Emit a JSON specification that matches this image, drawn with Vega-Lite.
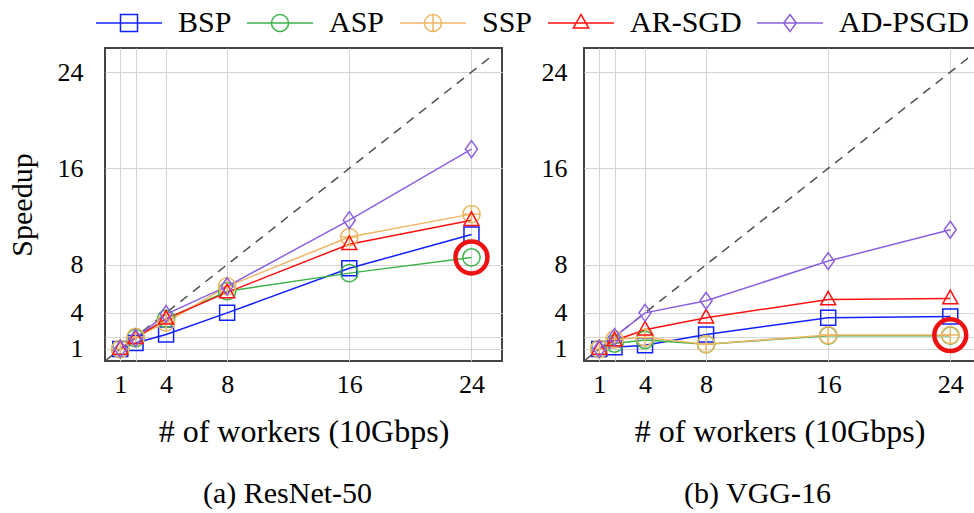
{
  "$schema": "https://vega.github.io/schema/vega-lite/v6.json",
  "padding": {"left": 6, "top": 8, "right": 0, "bottom": 0},
  "config": {
    "font": "Liberation Serif",
    "view": {"stroke": "#444444", "strokeWidth": 2},
    "axis": {
      "grid": true, "gridColor": "#d4d4d4", "gridWidth": 1, "ticks": false, "domain": false,
      "labelFontSize": 26, "labelColor": "#000000", "titleColor": "#000000",
      "titleFontWeight": "normal", "labelFont": "Liberation Serif", "titleFont": "Liberation Serif"
    },
    "point": {"filled": false, "size": 225, "strokeWidth": 1.5, "opacity": 1},
    "title": {"font": "Liberation Serif", "fontWeight": "normal", "fontSize": 30, "color": "#000000"}
  },
  "datasets": {
    "speed": [
      {"model": "ResNet-50", "series": "BSP", "w": 1, "s": 1},
      {"model": "ResNet-50", "series": "BSP", "w": 2, "s": 1.5},
      {"model": "ResNet-50", "series": "BSP", "w": 4, "s": 2.2},
      {"model": "ResNet-50", "series": "BSP", "w": 8, "s": 4.0},
      {"model": "ResNet-50", "series": "BSP", "w": 16, "s": 7.7},
      {"model": "ResNet-50", "series": "BSP", "w": 24, "s": 10.5},
      {"model": "ResNet-50", "series": "ASP", "w": 1, "s": 1},
      {"model": "ResNet-50", "series": "ASP", "w": 2, "s": 1.9},
      {"model": "ResNet-50", "series": "ASP", "w": 4, "s": 3.5},
      {"model": "ResNet-50", "series": "ASP", "w": 8, "s": 5.8},
      {"model": "ResNet-50", "series": "ASP", "w": 16, "s": 7.3},
      {"model": "ResNet-50", "series": "ASP", "w": 24, "s": 8.6},
      {"model": "ResNet-50", "series": "SSP", "w": 1, "s": 1},
      {"model": "ResNet-50", "series": "SSP", "w": 2, "s": 2.0},
      {"model": "ResNet-50", "series": "SSP", "w": 4, "s": 3.2},
      {"model": "ResNet-50", "series": "SSP", "w": 8, "s": 6.2},
      {"model": "ResNet-50", "series": "SSP", "w": 16, "s": 10.3},
      {"model": "ResNet-50", "series": "SSP", "w": 24, "s": 12.2},
      {"model": "ResNet-50", "series": "AR-SGD", "w": 1, "s": 1},
      {"model": "ResNet-50", "series": "AR-SGD", "w": 2, "s": 1.9},
      {"model": "ResNet-50", "series": "AR-SGD", "w": 4, "s": 3.5},
      {"model": "ResNet-50", "series": "AR-SGD", "w": 8, "s": 5.7},
      {"model": "ResNet-50", "series": "AR-SGD", "w": 16, "s": 9.7},
      {"model": "ResNet-50", "series": "AR-SGD", "w": 24, "s": 11.7},
      {"model": "ResNet-50", "series": "AD-PSGD", "w": 1, "s": 1},
      {"model": "ResNet-50", "series": "AD-PSGD", "w": 2, "s": 1.9},
      {"model": "ResNet-50", "series": "AD-PSGD", "w": 4, "s": 3.9},
      {"model": "ResNet-50", "series": "AD-PSGD", "w": 8, "s": 6.2},
      {"model": "ResNet-50", "series": "AD-PSGD", "w": 16, "s": 11.7},
      {"model": "ResNet-50", "series": "AD-PSGD", "w": 24, "s": 17.6},
      {"model": "VGG-16", "series": "BSP", "w": 1, "s": 1},
      {"model": "VGG-16", "series": "BSP", "w": 2, "s": 1.15},
      {"model": "VGG-16", "series": "BSP", "w": 4, "s": 1.3},
      {"model": "VGG-16", "series": "BSP", "w": 8, "s": 2.2},
      {"model": "VGG-16", "series": "BSP", "w": 16, "s": 3.6},
      {"model": "VGG-16", "series": "BSP", "w": 24, "s": 3.7},
      {"model": "VGG-16", "series": "ASP", "w": 1, "s": 1},
      {"model": "VGG-16", "series": "ASP", "w": 2, "s": 1.45},
      {"model": "VGG-16", "series": "ASP", "w": 4, "s": 1.75},
      {"model": "VGG-16", "series": "ASP", "w": 8, "s": 1.4},
      {"model": "VGG-16", "series": "ASP", "w": 16, "s": 2.1},
      {"model": "VGG-16", "series": "ASP", "w": 24, "s": 2.1},
      {"model": "VGG-16", "series": "SSP", "w": 1, "s": 1},
      {"model": "VGG-16", "series": "SSP", "w": 2, "s": 1.8},
      {"model": "VGG-16", "series": "SSP", "w": 4, "s": 1.95},
      {"model": "VGG-16", "series": "SSP", "w": 8, "s": 1.4},
      {"model": "VGG-16", "series": "SSP", "w": 16, "s": 2.15},
      {"model": "VGG-16", "series": "SSP", "w": 24, "s": 2.15},
      {"model": "VGG-16", "series": "AR-SGD", "w": 1, "s": 1},
      {"model": "VGG-16", "series": "AR-SGD", "w": 2, "s": 1.7},
      {"model": "VGG-16", "series": "AR-SGD", "w": 4, "s": 2.6},
      {"model": "VGG-16", "series": "AR-SGD", "w": 8, "s": 3.6},
      {"model": "VGG-16", "series": "AR-SGD", "w": 16, "s": 5.1},
      {"model": "VGG-16", "series": "AR-SGD", "w": 24, "s": 5.2},
      {"model": "VGG-16", "series": "AD-PSGD", "w": 1, "s": 1},
      {"model": "VGG-16", "series": "AD-PSGD", "w": 2, "s": 2.0},
      {"model": "VGG-16", "series": "AD-PSGD", "w": 4, "s": 4.0},
      {"model": "VGG-16", "series": "AD-PSGD", "w": 8, "s": 5.0},
      {"model": "VGG-16", "series": "AD-PSGD", "w": 16, "s": 8.3},
      {"model": "VGG-16", "series": "AD-PSGD", "w": 24, "s": 10.9}
    ],
    "ideal": [{"w": 0, "s": 0}, {"w": 25.5, "s": 25.5}],
    "highlight": [
      {"model": "ResNet-50", "w": 24, "s": 8.6},
      {"model": "VGG-16", "w": 24, "s": 2.15}
    ]
  },
  "hconcat": [
    {
      "width": 397, "height": 313,
      "title": {"text": "(a) ResNet-50", "orient": "bottom", "offset": 32, "dx": -16},
      "encoding": {
        "x": {"field": "w", "type": "quantitative", "scale": {"domain": [0, 26], "nice": false, "zero": false},
              "axis": {"values": [1, 2, 4, 8, 16, 24], "labelExpr": "datum.value == 2 ? '' : datum.label", "labelPadding": 10, "title": "# of workers (10Gbps)", "titleFontSize": 32, "titlePadding": 19}},
        "y": {"field": "s", "type": "quantitative", "scale": {"domain": [0, 26], "nice": false, "zero": false},
              "axis": {"values": [1, 2, 4, 8, 16, 24], "labelExpr": "datum.value == 2 ? '' : datum.label", "labelPadding": 22, "title": "Speedup", "titleFontSize": 30, "titlePadding": 20}}
      },
      "layer": [
        {"data": {"name": "speed"}, "transform": [{"filter": "datum.w < 0"}],
         "mark": {"type": "point"},
         "encoding": {
           "color": {"field": "series", "type": "nominal",
             "scale": {"domain": ["BSP", "ASP", "SSP", "AR-SGD", "AD-PSGD"], "range": ["#1020ff", "#3cb34a", "#efb664", "#ff1010", "#8a5fe0"]},
             "legend": {"orient": "none", "legendX": -10, "legendY": -40, "direction": "horizontal", "columns": 5, "title": null, "clipHeight": 30,
               "symbolSize": 4356, "symbolStrokeWidth": 1.5, "labelFontSize": 30, "labelFont": "Liberation Serif", "labelColor": "#000000",
               "labelOffset": 15, "columnPadding": 14}},
           "shape": {"field": "series", "type": "nominal",
             "scale": {"domain": ["BSP", "ASP", "SSP", "AR-SGD", "AD-PSGD"], "range": ["M-1,0H1M-0.258,-0.258H0.258V0.258H-0.258Z", "M-1,0H1M0.258,0A0.258,0.258,0,1,1,-0.258,0A0.258,0.258,0,1,1,0.258,0Z", "M-1,0H1M0.258,0A0.258,0.258,0,1,1,-0.258,0A0.258,0.258,0,1,1,0.258,0ZM0,-0.258V0.258", "M-1,0H1M0,-0.258L0.232,0.155H-0.232Z", "M-1,0H1M0,-0.258L0.193,0L0,0.258L-0.193,0Z"]},
             "legend": {"orient": "none", "legendX": -10, "legendY": -40, "direction": "horizontal", "columns": 5, "title": null, "clipHeight": 30,
               "symbolSize": 4356, "symbolStrokeWidth": 1.5, "labelFontSize": 30, "labelFont": "Liberation Serif", "labelColor": "#000000",
               "labelOffset": 15, "columnPadding": 14}}
         }},
        {"data": {"name": "ideal"}, "mark": {"type": "line", "color": "#505050", "strokeDash": [9, 7], "strokeWidth": 1.5}},
        {"data": {"name": "speed"}, "transform": [{"filter": "datum.model == 'ResNet-50'"}],
         "mark": {"type": "line", "strokeWidth": 1.5},
         "encoding": {"color": {"field": "series", "type": "nominal",
            "scale": {"domain": ["BSP", "ASP", "SSP", "AR-SGD", "AD-PSGD"], "range": ["#1020ff", "#3cb34a", "#efb664", "#ff1010", "#8a5fe0"]}, "legend": null}}},
        {"data": {"name": "speed"}, "transform": [{"filter": "datum.model == 'ResNet-50' && datum.series == 'BSP'"}],
         "mark": {"type": "point", "shape": "M-1,-1H1V1H-1Z", "color": "#1020ff"}},
        {"data": {"name": "speed"}, "transform": [{"filter": "datum.model == 'ResNet-50' && datum.series == 'ASP'"}],
         "mark": {"type": "point", "shape": "M1.15,0A1.15,1.15,0,1,1,-1.15,0A1.15,1.15,0,1,1,1.15,0Z", "color": "#3cb34a"}},
        {"data": {"name": "speed"}, "transform": [{"filter": "datum.model == 'ResNet-50' && datum.series == 'SSP'"}],
         "mark": {"type": "point", "shape": "M1.15,0A1.15,1.15,0,1,1,-1.15,0A1.15,1.15,0,1,1,1.15,0ZM0,-1.15V1.15M-1.15,0H1.15", "color": "#efb664"}},
        {"data": {"name": "speed"}, "transform": [{"filter": "datum.model == 'ResNet-50' && datum.series == 'AR-SGD'"}],
         "mark": {"type": "point", "shape": "M0,-1.1L1,0.7H-1Z", "color": "#ff1010"}},
        {"data": {"name": "speed"}, "transform": [{"filter": "datum.model == 'ResNet-50' && datum.series == 'AD-PSGD'"}],
         "mark": {"type": "point", "shape": "M0,-1.13L0.8,0L0,1.13L-0.8,0Z", "color": "#8a5fe0"}},
        {"data": {"name": "highlight"}, "transform": [{"filter": "datum.model == 'ResNet-50'"}],
         "mark": {"type": "point", "shape": "circle", "size": 1018, "color": "#ee1111", "strokeWidth": 4.5}}
      ]
    },
    {
      "width": 391, "height": 313,
      "title": {"text": "(b) VGG-16", "orient": "bottom", "offset": 32, "dx": -22},
      "encoding": {
        "x": {"field": "w", "type": "quantitative", "scale": {"domain": [0, 25.62], "nice": false, "zero": false},
              "axis": {"values": [1, 2, 4, 8, 16, 24], "labelExpr": "datum.value == 2 ? '' : datum.label", "labelPadding": 10, "title": "# of workers (10Gbps)", "titleFontSize": 32, "titlePadding": 19}},
        "y": {"field": "s", "type": "quantitative", "scale": {"domain": [0, 26], "nice": false, "zero": false},
              "axis": {"values": [1, 2, 4, 8, 16, 24], "labelExpr": "datum.value == 2 ? '' : datum.label", "labelPadding": 17, "title": null}}
      },
      "layer": [
        {"data": {"name": "ideal"}, "mark": {"type": "line", "color": "#505050", "strokeDash": [9, 7], "strokeWidth": 1.5}},
        {"data": {"name": "speed"}, "transform": [{"filter": "datum.model == 'VGG-16'"}],
         "mark": {"type": "line", "strokeWidth": 1.5},
         "encoding": {"color": {"field": "series", "type": "nominal",
            "scale": {"domain": ["BSP", "ASP", "SSP", "AR-SGD", "AD-PSGD"], "range": ["#1020ff", "#3cb34a", "#efb664", "#ff1010", "#8a5fe0"]}, "legend": null}}},
        {"data": {"name": "speed"}, "transform": [{"filter": "datum.model == 'VGG-16' && datum.series == 'BSP'"}],
         "mark": {"type": "point", "shape": "M-1,-1H1V1H-1Z", "color": "#1020ff"}},
        {"data": {"name": "speed"}, "transform": [{"filter": "datum.model == 'VGG-16' && datum.series == 'ASP'"}],
         "mark": {"type": "point", "shape": "M1.15,0A1.15,1.15,0,1,1,-1.15,0A1.15,1.15,0,1,1,1.15,0Z", "color": "#3cb34a"}},
        {"data": {"name": "speed"}, "transform": [{"filter": "datum.model == 'VGG-16' && datum.series == 'SSP'"}],
         "mark": {"type": "point", "shape": "M1.15,0A1.15,1.15,0,1,1,-1.15,0A1.15,1.15,0,1,1,1.15,0ZM0,-1.15V1.15M-1.15,0H1.15", "color": "#efb664"}},
        {"data": {"name": "speed"}, "transform": [{"filter": "datum.model == 'VGG-16' && datum.series == 'AR-SGD'"}],
         "mark": {"type": "point", "shape": "M0,-1.1L1,0.7H-1Z", "color": "#ff1010"}},
        {"data": {"name": "speed"}, "transform": [{"filter": "datum.model == 'VGG-16' && datum.series == 'AD-PSGD'"}],
         "mark": {"type": "point", "shape": "M0,-1.13L0.8,0L0,1.13L-0.8,0Z", "color": "#8a5fe0"}},
        {"data": {"name": "highlight"}, "transform": [{"filter": "datum.model == 'VGG-16'"}],
         "mark": {"type": "point", "shape": "circle", "size": 1018, "color": "#ee1111", "strokeWidth": 4.5}}
      ]
    }
  ],
  "spacing": 37,
  "resolve": {"scale": {"color": "shared", "shape": "shared", "x": "independent", "y": "independent"}}
}
